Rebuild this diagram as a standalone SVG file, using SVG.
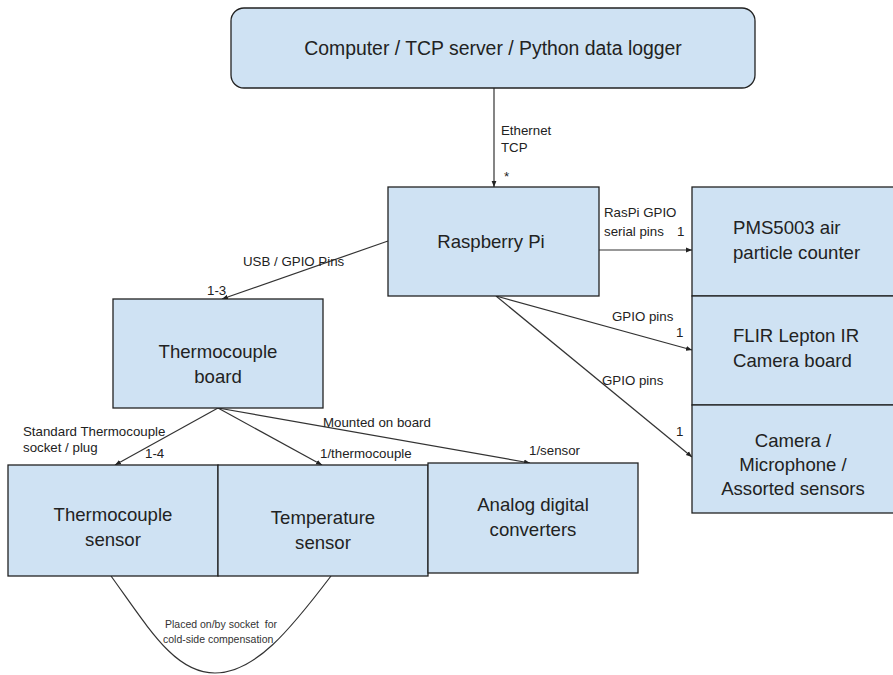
<svg xmlns="http://www.w3.org/2000/svg" width="893" height="675" viewBox="0 0 893 675">
<defs>
<style>
.box{fill:#cfe2f3;stroke:#222;stroke-width:1.3}
.t{font-family:"Liberation Sans",Arial,sans-serif;font-size:18.6px;fill:#222}
.c{text-anchor:middle}
.l{font-family:"Liberation Sans",Arial,sans-serif;font-size:13.3px;fill:#222}
.s{font-family:"Liberation Sans",Arial,sans-serif;font-size:10.5px;fill:#333}
.e{fill:none;stroke:#333;stroke-width:1.2}
</style>
<marker id="ah" viewBox="0 0 10 10" refX="10" refY="5" markerWidth="6" markerHeight="6" orient="auto" markerUnits="userSpaceOnUse">
<path d="M0,1 L10,5 L0,9 z" fill="#222"/>
</marker>
</defs>
<rect width="893" height="675" fill="#fff"/>

<g id="connectors">
<line class="e" x1="494" y1="88" x2="494" y2="187" marker-end="url(#ah)"/>
<line class="e" x1="599" y1="250" x2="692" y2="250" marker-end="url(#ah)"/>
<line class="e" x1="388" y1="241" x2="222" y2="299" marker-end="url(#ah)"/>
<line class="e" x1="496" y1="296" x2="692" y2="350" marker-end="url(#ah)"/>
<line class="e" x1="496" y1="296" x2="692" y2="457" marker-end="url(#ah)"/>
<line class="e" x1="218" y1="408" x2="115" y2="465" marker-end="url(#ah)"/>
<line class="e" x1="218" y1="408" x2="322" y2="465" marker-end="url(#ah)"/>
<line class="e" x1="218" y1="408" x2="530" y2="463" marker-end="url(#ah)"/>
<path class="e" d="M111,576 C150,630 175,673 215,673 C255,673 290,630 331,576"/>
<text class="l" x="501" y="135">Ethernet</text>
<text class="l" x="501" y="152">TCP</text>
<text class="l" x="504" y="181">*</text>
<text class="l" x="604" y="217">RasPi GPIO</text>
<text class="l" x="604" y="236">serial pins</text>
<text class="l" x="677" y="236">1</text>
<text class="l" x="243" y="266">USB / GPIO Pins</text>
<text class="l" x="207" y="295">1-3</text>
<text class="l" x="612" y="321">GPIO pins</text>
<text class="l" x="676" y="337">1</text>
<text class="l" x="602" y="385">GPIO pins</text>
<text class="l" x="676" y="436">1</text>
<text class="l" x="23" y="436">Standard Thermocouple</text>
<text class="l" x="23" y="452">socket / plug</text>
<text class="l" x="145" y="458">1-4</text>
<text class="l" x="320" y="458">1/thermocouple</text>
<text class="l" x="323" y="427">Mounted on board</text>
<text class="l" x="529" y="455">1/sensor</text>
<text class="s" x="165" y="628">Placed on/by socket&#160; for</text>
<text class="s" x="163" y="643">cold-side compensation</text>
</g>

<g id="computer">
<rect class="box" x="231" y="8" width="524" height="80" rx="13"/>
<text class="t c" x="493" y="55" style="font-size:19.4px">Computer / TCP server / Python data logger</text>
</g>
<g id="raspberry-pi">
<rect class="box" x="388" y="187" width="211" height="109"/>
<text class="t c" x="491" y="248">Raspberry Pi</text>
</g>
<g id="pms5003">
<rect class="box" x="692" y="187" width="205" height="109"/>
<text class="t" x="733" y="234">PMS5003 air</text>
<text class="t" x="733" y="259">particle counter</text>
</g>
<g id="flir">
<rect class="box" x="692" y="296" width="205" height="109"/>
<text class="t" x="733" y="342">FLIR Lepton IR</text>
<text class="t" x="733" y="367">Camera board</text>
</g>
<g id="camera">
<rect class="box" x="692" y="405" width="205" height="108"/>
<text class="t c" x="793" y="447">Camera /</text>
<text class="t c" x="793" y="471">Microphone /</text>
<text class="t c" x="793" y="495">Assorted sensors</text>
</g>
<g id="thermocouple-board">
<rect class="box" x="113" y="299" width="210" height="109"/>
<text class="t c" x="218" y="358">Thermocouple</text>
<text class="t c" x="218" y="383">board</text>
</g>
<g id="thermocouple-sensor">
<rect class="box" x="8" y="465" width="210" height="111"/>
<text class="t c" x="113" y="521">Thermocouple</text>
<text class="t c" x="113" y="546">sensor</text>
</g>
<g id="temperature-sensor">
<rect class="box" x="218" y="465" width="210" height="111"/>
<text class="t c" x="323" y="524">Temperature</text>
<text class="t c" x="323" y="549">sensor</text>
</g>
<g id="adc">
<rect class="box" x="428" y="463" width="210" height="110"/>
<text class="t c" x="533" y="511">Analog digital</text>
<text class="t c" x="533" y="536">converters</text>
</g>
</svg>
